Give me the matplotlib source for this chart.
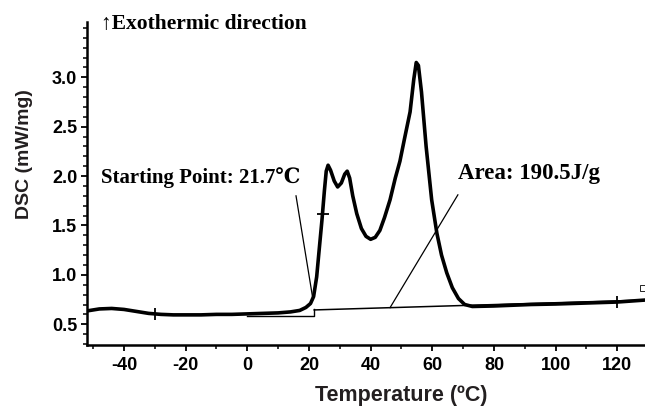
import numpy as np
import matplotlib
matplotlib.use("Agg")
import matplotlib.pyplot as plt
from matplotlib import font_manager
from matplotlib.ticker import MultipleLocator, FixedLocator, FormatStrFormatter

plt.rcParams["axes.unicode_minus"] = False

# DSC curve
temp = [-52, -48, -44, -40, -36, -32, -28, -24, -20, -15, -10, -5, 0, 5, 10, 14, 17, 19,
        20.5, 21.5, 22.5, 23.3, 24.2, 25.0, 25.6, 26.2, 27.0, 28.2, 29.3, 30.5, 31.6, 32.4,
        33.2, 34.2, 35.5, 37.0, 38.5, 40.0, 41.5, 43.0, 44.5, 46.3, 48.0, 49.5, 51.0, 52.8,
        54.0, 54.8, 55.5, 56.5, 58.0, 59.8, 61.5, 63.0, 64.7, 66.5, 68.5, 70.5, 73.0, 80,
        92, 100, 110, 120, 129]
dsc = [0.635, 0.655, 0.66, 0.65, 0.63, 0.61, 0.60, 0.595, 0.595, 0.595, 0.60, 0.60, 0.605,
       0.61, 0.615, 0.625, 0.64, 0.67, 0.71, 0.78, 0.98, 1.25, 1.55, 1.85, 2.05, 2.11, 2.06,
       1.95, 1.89, 1.93, 2.02, 2.05, 1.98, 1.80, 1.62, 1.47, 1.39, 1.36, 1.38, 1.45, 1.58,
       1.76, 1.98, 2.15, 2.38, 2.65, 2.98, 3.15, 3.12, 2.85, 2.30, 1.76, 1.42, 1.20, 1.02,
       0.87, 0.76, 0.70, 0.68, 0.685, 0.70, 0.705, 0.715, 0.725, 0.745]

# integration baseline, onset box and leader lines
base_x = [21.7, 129]
base_y = [0.645, 0.745]
box_x = [0, 21.7, 21.7]
box_y = [0.585, 0.585, 0.65]
onset_lead_x = [15.8, 21.3]
onset_lead_y = [1.80, 0.75]
area_lead_x = [68.3, 46.3]
area_lead_y = [1.81, 0.668]
flat_marks_x = [-30, 120]
flat_marks_y = [0.60, 0.725]
steep_mark_x = [24.4]
steep_mark_y = [1.62]

y_ticks = [0.5, 1.0, 1.5, 2.0, 2.5, 3.0]

fig = plt.figure(figsize=(6.45, 4.08), dpi=100)
ax = fig.add_axes([87 / 645, 1 - 345 / 408, 1 - 87 / 645, (345 - 22) / 408])

ax.plot(temp, dsc, color="black", lw=2.6, solid_joinstyle="round", zorder=3)
ax.plot(base_x, base_y, color="black", lw=1.1, zorder=2)
ax.plot(box_x, box_y, color="black", lw=1.0, zorder=2)
ax.plot(onset_lead_x, onset_lead_y, color="black", lw=0.9)
ax.plot(area_lead_x, area_lead_y, color="black", lw=0.9)
ax.plot(flat_marks_x, flat_marks_y, ls="none", marker="|", ms=8, mew=1.3, color="black", zorder=4)
ax.plot(steep_mark_x, steep_mark_y, ls="none", marker="_", ms=8, mew=1.3, color="black", zorder=4)
ax.plot([128.4], [0.87], ls="none", marker="s", ms=4, mfc="white", mec="black", mew=0.6,
        clip_on=False)

ax.set_xlim(-52, 129)
ax.set_ylim(0.29, 3.56)

for s in ["top", "right"]:
    ax.spines[s].set_visible(False)
for s in ["left", "bottom"]:
    ax.spines[s].set_linewidth(1.8)

ax.xaxis.set_major_locator(MultipleLocator(20))
ax.xaxis.set_minor_locator(MultipleLocator(10))
ax.yaxis.set_major_locator(FixedLocator(y_ticks))
ax.yaxis.set_minor_locator(MultipleLocator(0.1))
ax.tick_params(axis="both", which="major", direction="out", length=4, width=1.3)
ax.tick_params(axis="x", which="major", pad=5)
ax.tick_params(axis="y", which="major", pad=3)
ax.tick_params(axis="both", which="minor", direction="out", length=3, width=1.1)
ax.yaxis.set_major_formatter(FormatStrFormatter("%.1f"))

installed = {f.name for f in font_manager.fontManager.ttflist}
if "Liberation Sans Narrow" in installed:
    tick_font, tick_size = "Liberation Sans Narrow", 15
else:
    tick_font, tick_size = "Liberation Sans", 13
for lab in ax.get_xticklabels() + ax.get_yticklabels():
    lab.set_family(tick_font)
    lab.set_fontweight("bold")
    lab.set_fontsize(tick_size)

ax.set_xlabel("Temperature (ºC)", family=["Liberation Sans", "DejaVu Sans"],
              fontweight="bold", fontsize=15.5, color="#231f20")
ax.xaxis.set_label_coords(0.563, -0.125)
ax.set_ylabel("DSC (mW/mg)", family=["Liberation Sans", "DejaVu Sans"],
              fontweight="bold", fontsize=14, color="#231f20")
ax.yaxis.set_label_coords(-0.097, 0.59)

serif = ["Liberation Serif", "DejaVu Serif"]
ax.text(-47.6, 3.54, "↑Exothermic direction", family=serif, fontweight="bold",
        fontsize=15.5, va="center", ha="left", clip_on=False)
ax.text(-47.6, 1.99, "Starting Point: 21.7℃", family=serif, fontweight="bold",
        fontsize=15, va="center", ha="left")
ax.text(68.3, 2.03, "Area: 190.5J/g", family=serif, fontweight="bold",
        fontsize=16.5, va="center", ha="left")

fig.savefig("out.png", dpi=100)
